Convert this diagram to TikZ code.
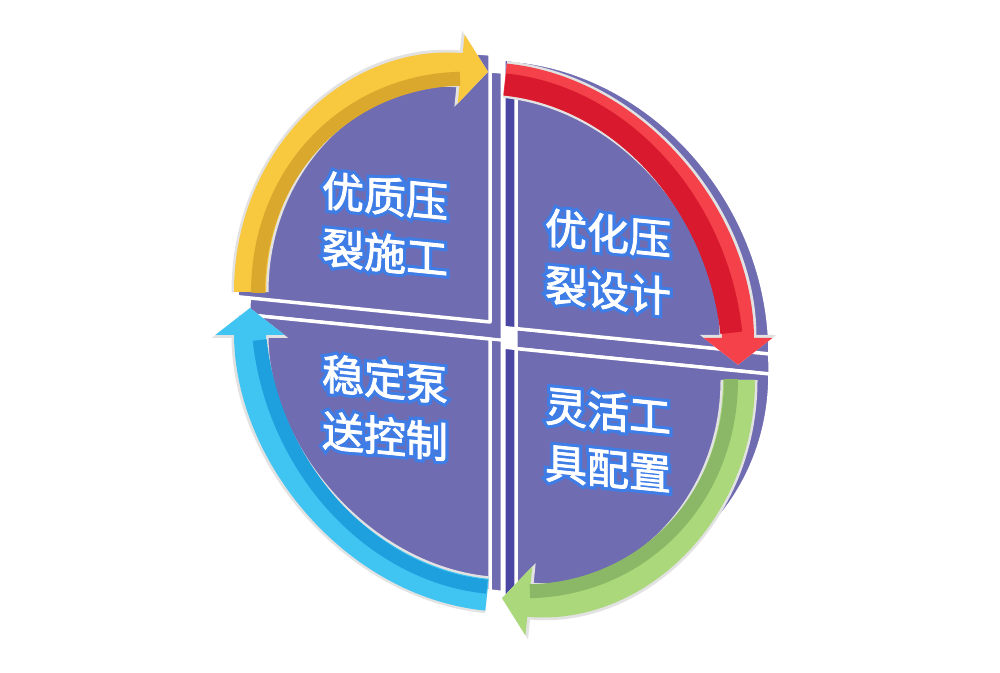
\documentclass[tikz,border=0pt]{standalone}
\usepackage{fontspec}
\newfontfamily\cjk{Noto Sans CJK SC}[FakeBold=2]
\newfontfamily\cjkglow{Noto Sans CJK SC}[FakeBold=17]
\usetikzlibrary{arrows.meta}

\definecolor{piefill}{HTML}{6F6CB1}
\definecolor{piewall}{HTML}{4A47A3}
\definecolor{glowblue}{HTML}{3F7DE6}
\definecolor{rimgray}{HTML}{E2E2E2}
\definecolor{yellowlt}{HTML}{F8C83E}
\definecolor{yellowdk}{HTML}{DBA82E}
\definecolor{redlt}{HTML}{F4414A}
\definecolor{reddk}{HTML}{D9192D}
\definecolor{greenlt}{HTML}{AAD87A}
\definecolor{greendk}{HTML}{8BB866}
\definecolor{bluelt}{HTML}{40C5F2}
\definecolor{bluedk}{HTML}{1E9FDE}

\newcommand{\glowline}[1]{\makebox[0pt]{\cjkglow\color{glowblue}#1}\makebox[0pt]{\cjk\color{white}#1}}

\tikzset{
  quad/.style={fill=piefill, draw=white, line width=3.5pt, line join=round},
  wallquad/.style={fill=#1, draw=white, line width=3pt, line join=round},
  rim/.style={draw=rimgray, line width=37pt, -{Triangle[length=30pt,width=75pt]}},
  band/.style={draw=#1, line width=32pt, -{Triangle[length=27pt,width=68pt]}},
  stripe/.style 2 args={draw=#1, line width=#2},
  quadtext/.style={inner sep=0pt, align=center, transform shape, font=\fontsize{42}{57}\selectfont},
  tlpath/.style={insert path={(-10,10) -- (-263,10) arc[start angle=180,end angle=90,x radius=253,y radius=268] -- cycle}},
  trpath/.style={insert path={(16,6) -- (16,274) arc[start angle=90,end angle=0,x radius=254,y radius=268] -- cycle}},
  brpath/.style={insert path={(16,-14) -- (270,-14) arc[start angle=0,end angle=-90,x radius=254,y radius=248] -- cycle}},
  blpath/.style={insert path={(-10,-7) -- (-10,-259) arc[start angle=-90,end angle=-180,x radius=253,y radius=252] -- cycle}},
}

\begin{document}
\begin{tikzpicture}[x=1pt, y=1pt]
  \fill[white] (0,0) rectangle (1000,672);
  \useasboundingbox (0,0) rectangle (1000,672);

  \begin{scope}[shift={(500,339)}, yslant=-0.1]
    % side walls
    \path[wallquad=piefill, shift={(12,-17)}, tlpath];
    \path[wallquad=piefill, shift={(12,0)}, blpath];
    \path[wallquad=piefill, shift={(0,-20)}, trpath];
    \path[wallquad=piewall, shift={(-12,0)}, trpath];
    \path[wallquad=piewall, shift={(-12,0)}, brpath];

    % faces
    \path[quad, tlpath];
    \path[quad, trpath];
    \path[quad, brpath];
    \path[quad, blpath];

    % yellow
    \draw[rim] (-250,16) arc[start angle=180,end angle=90,x radius=238,y radius=244];
    \draw[band=yellowlt] (-250,16) arc[start angle=180,end angle=90,x radius=238,y radius=244];
    \draw[stripe={yellowdk}{14pt}] (-242,16) arc[start angle=180,end angle=97,x radius=230,y radius=236];
    % red
    \draw[rim] (5,254) arc[start angle=90,end angle=0,x radius=233,y radius=262];
    \draw[band=redlt] (5,254) arc[start angle=90,end angle=0,x radius=233,y radius=262];
    \draw[stripe={reddk}{22pt}] (5,249) arc[start angle=90,end angle=7,x radius=228,y radius=257];
    % green
    \draw[rim] (239,-23) arc[start angle=0,end angle=-90,x radius=237,y radius=242];
    \draw[band=greenlt] (239,-23) arc[start angle=0,end angle=-90,x radius=237,y radius=242];
    \draw[stripe={greendk}{14pt}] (231,-23) arc[start angle=0,end angle=-83,x radius=229,y radius=234];
    % blue
    \draw[rim] (-13,-263) arc[start angle=-90,end angle=-180,x radius=237,y radius=263];
    \draw[band=bluelt] (-13,-263) arc[start angle=-90,end angle=-180,x radius=237,y radius=263];
    \draw[stripe={bluedk}{14pt}] (-13,-255) arc[start angle=-90,end angle=-173,x radius=229,y radius=255];

    \node[quadtext] (tltext) at (-115,97) {\glowline{优质压}\\\glowline{裂施工}};
    \node[quadtext] (trtext) at (108,82) {\glowline{优化压}\\\glowline{裂设计}};
    \node[quadtext] (bltext) at (-115,-86) {\glowline{稳定泵}\\\glowline{送控制}};
    \node[quadtext] (brtext) at (108,-96) {\glowline{灵活工}\\\glowline{具配置}};
  \end{scope}
\end{tikzpicture}
\end{document}
